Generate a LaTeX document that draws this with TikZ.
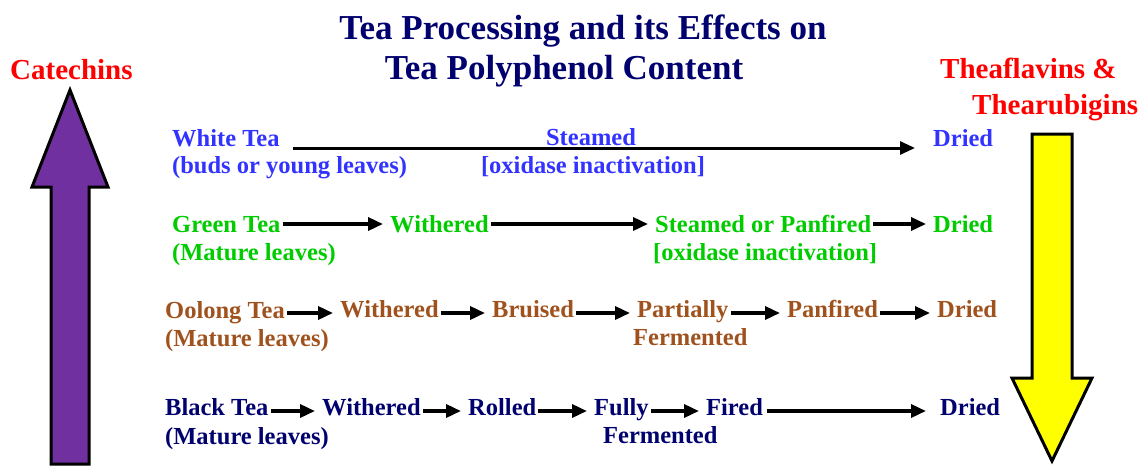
\documentclass[tikz,border=0pt]{standalone}
\usepackage{fontspec}
\setmainfont{Liberation Serif}
\usetikzlibrary{arrows.meta}
\definecolor{navy}{RGB}{0,0,110}
\definecolor{wblue}{RGB}{51,51,255}
\definecolor{ggreen}{RGB}{0,204,0}
\definecolor{obrown}{RGB}{160,82,30}
\definecolor{redlab}{RGB}{255,0,0}
\definecolor{purp}{RGB}{112,48,160}
\definecolor{yell}{RGB}{255,255,0}
\begin{document}
\begin{tikzpicture}[x=1pt,y=-1pt,
  txt/.style={inner sep=0pt, anchor=base west, font=\fontsize{24.5}{24.5}\selectfont\bfseries},
  ttl/.style={inner sep=0pt, anchor=base, font=\fontsize{35}{35}\selectfont\bfseries, text=navy},
  lab/.style={inner sep=0pt, anchor=base west, font=\fontsize{29}{29}\selectfont\bfseries, text=redlab},
  flow/.style={-{Triangle[length=15pt,width=13pt]}, line width=3.5pt, shorten <=2pt, shorten >=7pt},
  bigarrow/.style={draw=black, line width=3pt, line join=miter}]
\useasboundingbox (0,0) rectangle (1144,466);

% title
\node[ttl] (t1) at (583,39) {Tea Processing and its Effects on};
\node[ttl] (t2) at (564,79) {Tea Polyphenol Content};

% side labels
\node[lab] (cat) at (10,79) {Catechins};
\node[lab] (thf) at (940,78) {Theaflavins \&};
\node[lab] (thr) at (972,114) {Thearubigins};

% big arrows
\draw[bigarrow, fill=purp] (70,90) -- (108,187) -- (89,187) -- (89,464) -- (51,464) -- (51,187) -- (32,187) -- cycle;
\draw[bigarrow, fill=yell] (1032,134) -- (1072,134) -- (1072,378) -- (1092,378) -- (1052,461) -- (1012,378) -- (1032,378) -- cycle;

% row 1: white tea
\node[txt, text=wblue] (w1) at (172,146) {White Tea};
\node[txt, text=wblue] (w1s) at (172,173) {(buds or young leaves)};
\node[txt, text=wblue] (w1d) at (933,146) {Dried};
\node[txt, text=wblue, anchor=base] (w1st) at (591,145) {Steamed};
\node[txt, text=wblue, anchor=base] (w1ox) at (593,173) {[oxidase inactivation]};
\draw[flow, line width=3pt, shorten <=13pt, shorten >=18pt] ([yshift=-2pt]w1.base east) -- ([yshift=-2pt]w1d.base west);

% row 2: green tea
\node[txt, text=ggreen] (g1) at (172,232) {Green Tea};
\node[txt, text=ggreen] (g1s) at (172,260) {(Mature leaves)};
\node[txt, text=ggreen] (g2) at (390,232) {Withered};
\node[txt, text=ggreen] (g3) at (655,232) {Steamed or Panfired};
\node[txt, text=ggreen] (g3s) at (653,260) {[oxidase inactivation]};
\node[txt, text=ggreen] (g4) at (933,232) {Dried};
\draw[flow] ([yshift=8pt]g1.base east) -- ([yshift=8pt]g2.base west);
\draw[flow] ([yshift=8pt]g2.base east) -- ([yshift=8pt]g3.base west);
\draw[flow] ([yshift=8pt]g3.base east) -- ([yshift=8pt]g4.base west);

% row 3: oolong tea
\node[txt, text=obrown] (o1) at (165,318) {Oolong Tea};
\node[txt, text=obrown] (o1s) at (165,346) {(Mature leaves)};
\node[txt, text=obrown] (o2) at (340,317) {Withered};
\node[txt, text=obrown] (o3) at (492,317) {Bruised};
\node[txt, text=obrown] (o4) at (637,317) {Partially};
\node[txt, text=obrown] (o4s) at (633,345) {Fermented};
\node[txt, text=obrown] (o5) at (787,317) {Panfired};
\node[txt, text=obrown] (o6) at (937,317) {Dried};
\draw[flow] ([yshift=5pt]o1.base east) -- ([yshift=4pt]o2.base west);
\draw[flow] ([yshift=4pt]o2.base east) -- ([yshift=4pt]o3.base west);
\draw[flow] ([yshift=4pt]o3.base east) -- ([yshift=4pt]o4.base west);
\draw[flow] ([yshift=4pt]o4.base east) -- ([yshift=4pt]o5.base west);
\draw[flow] ([yshift=4pt]o5.base east) -- ([yshift=4pt]o6.base west);

% row 4: black tea
\node[txt, text=navy] (b1) at (165,415) {Black Tea};
\node[txt, text=navy] (b1s) at (165,444) {(Mature leaves)};
\node[txt, text=navy] (b2) at (322,415) {Withered};
\node[txt, text=navy] (b3) at (468,415) {Rolled};
\node[txt, text=navy] (b4) at (594,415) {Fully};
\node[txt, text=navy] (b4s) at (603,443) {Fermented};
\node[txt, text=navy] (b5) at (706,415) {Fired};
\node[txt, text=navy] (b6) at (940,415) {Dried};
\draw[flow] ([yshift=4pt]b1.base east) -- ([yshift=4pt]b2.base west);
\draw[flow] ([yshift=4pt]b2.base east) -- ([yshift=4pt]b3.base west);
\draw[flow] ([yshift=4pt]b3.base east) -- ([yshift=4pt]b4.base west);
\draw[flow] ([yshift=4pt]b4.base east) -- ([yshift=4pt]b5.base west);
\draw[flow, shorten <=4pt, shorten >=14pt] ([yshift=4pt]b5.base east) -- ([yshift=4pt]b6.base west);
\end{tikzpicture}
\end{document}
